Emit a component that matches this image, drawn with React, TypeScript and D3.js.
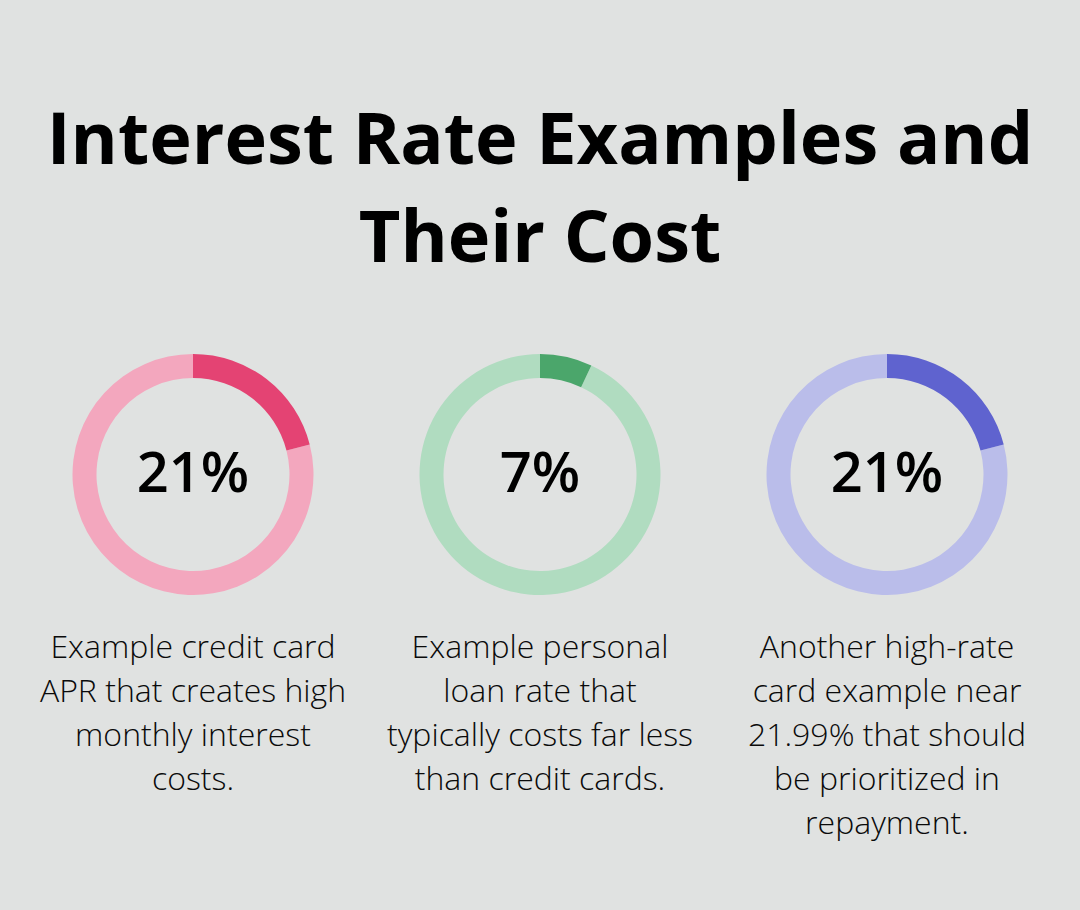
import React from "react";
import * as d3 from "d3";

const TITLE_LINES = ["Interest Rate Examples and", "Their Cost"];
const VALUES = [21, 7, 21];
const VALUE_LABELS = ["21%", "7%", "21%"];
const DESCRIPTIONS = [
  ["Example credit card", "APR that creates high", "monthly interest", "costs."],
  ["Example personal", "loan rate that", "typically costs far less", "than credit cards."],
  ["Another high-rate", "card example near", "21.99% that should", "be prioritized in", "repayment."],
];
const DARK_COLORS = ["#e44373", "#4ba66b", "#5f63cf"];
const LIGHT_COLORS = ["#f3a7be", "#b0dcc0", "#babdea"];

const W = 1080;
const H = 910;
const FONT = "'Open Sans', 'Noto Sans', sans-serif";

export default function App() {
  const x = d3.scalePoint<number>().domain([0, 1, 2]).range([193, 887]);
  const cy = 474.5;
  const outerR = 120.5;
  const innerR = 96.5;
  const arc = d3.arc<any>().innerRadius(innerR).outerRadius(outerR);
  const pie = d3.pie<number>().sort(null).value((d) => d);

  return (
    <svg
      width={W}
      height={H}
      style={{ position: "absolute", left: 0, top: 0, display: "block" }}
    >
      <rect width={W} height={H} fill="#e0e2e1" />
      {TITLE_LINES.map((t, i) => (
        <text
          key={i}
          x={W / 2}
          y={164 + i * 98}
          textAnchor="middle"
          fontFamily={FONT}
          fontWeight={700}
          fontSize={72}
          fill="#000"
        >
          {t}
        </text>
      ))}
      {VALUES.map((v, i) => {
        const arcs = pie([v, 100 - v]);
        return (
          <g key={i} transform={`translate(${x(i)},${cy})`}>
            <path d={arc(arcs[1]) as string} fill={LIGHT_COLORS[i]} />
            <path d={arc(arcs[0]) as string} fill={DARK_COLORS[i]} />
            <text
              x={0}
              y={17}
              textAnchor="middle"
              fontFamily={FONT}
              fontWeight={600}
              fontSize={56}
              fill="#000"
            >
              {VALUE_LABELS[i]}
            </text>
          </g>
        );
      })}
      {DESCRIPTIONS.map((lines, i) => (
        <g key={i}>
          {lines.map((l, j) => (
            <text
              key={j}
              x={x(i)}
              y={658 + j * 44}
              textAnchor="middle"
              fontFamily={FONT}
              fontWeight={300}
              fontSize={32}
              fill="#0a0a0a"
            >
              {l}
            </text>
          ))}
        </g>
      ))}
    </svg>
  );
}
